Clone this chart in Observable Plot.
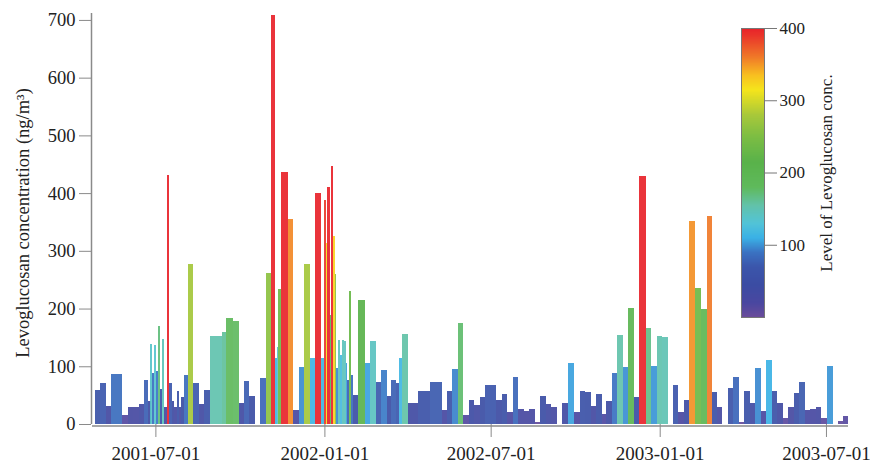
<!DOCTYPE html>
<html><head><meta charset="utf-8">
<script src="https://cdn.jsdelivr.net/npm/d3@7"></script>
<script src="https://cdn.jsdelivr.net/npm/@observablehq/plot@0.6"></script>
<style>
body{margin:0;background:#fff;font-family:"Liberation Serif","Times New Roman",serif;}
#wrap{position:relative;width:870px;height:464px;}
#main{position:absolute;left:0;top:0;}
#legend{position:absolute;left:700px;top:0;}
</style></head><body><div id="wrap"><div id="main"></div><div id="legend"></div></div>
<script>
// Sampling periods (start, end) and levoglucosan concentration (ng/m3)
const starts = [
 "2001-04-26","2001-05-02","2001-05-08","2001-05-14","2001-05-26","2001-06-01","2001-06-07","2001-06-13","2001-06-19","2001-06-23",
 "2001-06-25","2001-06-27","2001-06-30","2001-07-02","2001-07-04","2001-07-06","2001-07-08","2001-07-10","2001-07-14","2001-07-16",
 "2001-07-19","2001-07-21","2001-07-24","2001-07-27","2001-07-29","2001-08-01","2001-08-05","2001-08-11","2001-08-17","2001-08-23",
 "2001-08-29","2001-09-11","2001-09-16","2001-09-23","2001-09-30","2001-10-06","2001-10-11","2001-10-23","2001-10-29","2001-11-04",
 "2001-11-08","2001-11-10","2001-11-12","2001-11-15","2001-11-22","2001-11-28","2001-12-04","2001-12-10","2001-12-16","2001-12-22",
 "2001-12-28","2002-01-01","2002-01-03","2002-01-04","2002-01-07","2002-01-08","2002-01-10","2002-01-12","2002-01-14","2002-01-16",
 "2002-01-18","2002-01-20","2002-01-22","2002-01-24","2002-01-26","2002-01-28","2002-01-30","2002-02-01","2002-02-07","2002-02-14",
 "2002-02-20","2002-02-26","2002-03-04","2002-03-10","2002-03-15","2002-03-20","2002-03-23","2002-03-26","2002-04-02","2002-04-13",
 "2002-04-26","2002-05-09","2002-05-14","2002-05-20","2002-05-26","2002-06-01","2002-06-07","2002-06-13","2002-06-19","2002-06-25",
 "2002-07-07","2002-07-13","2002-07-19","2002-07-25","2002-07-31","2002-08-06","2002-08-12","2002-08-18","2002-08-24","2002-08-30",
 "2002-09-05","2002-09-17","2002-09-23","2002-09-30","2002-10-06","2002-10-12","2002-10-18","2002-10-24","2002-10-30","2002-11-04",
 "2002-11-10","2002-11-16","2002-11-22","2002-11-28","2002-12-04","2002-12-10","2002-12-17","2002-12-22","2002-12-29","2003-01-03",
 "2003-01-15","2003-01-21","2003-01-27","2003-02-02","2003-02-08","2003-02-15","2003-02-21","2003-02-27","2003-03-04","2003-03-16",
 "2003-03-22","2003-03-28","2003-04-03","2003-04-09","2003-04-15","2003-04-21","2003-04-27","2003-05-03","2003-05-09","2003-05-15",
 "2003-05-21","2003-05-27","2003-06-02","2003-06-08","2003-06-14","2003-06-20","2003-06-26","2003-07-02","2003-07-14","2003-07-20"
];
const ends = [
 "2001-05-02","2001-05-08","2001-05-14","2001-05-26","2001-06-01","2001-06-07","2001-06-13","2001-06-19","2001-06-23","2001-06-26",
 "2001-06-27","2001-06-30","2001-07-02","2001-07-04","2001-07-06","2001-07-08","2001-07-10","2001-07-14","2001-07-16","2001-07-19",
 "2001-07-21","2001-07-24","2001-07-27","2001-07-29","2001-08-01","2001-08-05","2001-08-11","2001-08-17","2001-08-23","2001-08-29",
 "2001-09-11","2001-09-16","2001-09-23","2001-09-30","2001-10-06","2001-10-11","2001-10-17","2001-10-29","2001-11-04","2001-11-08",
 "2001-11-10","2001-11-12","2001-11-15","2001-11-22","2001-11-28","2001-12-04","2001-12-10","2001-12-16","2001-12-22","2001-12-28",
 "2002-01-01","2002-01-03","2002-01-04","2002-01-07","2002-01-08","2002-01-10","2002-01-12","2002-01-14","2002-01-16","2002-01-18",
 "2002-01-20","2002-01-22","2002-01-24","2002-01-26","2002-01-28","2002-01-30","2002-02-01","2002-02-07","2002-02-14","2002-02-20",
 "2002-02-26","2002-03-04","2002-03-10","2002-03-15","2002-03-20","2002-03-23","2002-03-26","2002-04-02","2002-04-13","2002-04-26",
 "2002-05-09","2002-05-14","2002-05-20","2002-05-26","2002-06-01","2002-06-07","2002-06-13","2002-06-19","2002-06-25","2002-07-07",
 "2002-07-13","2002-07-19","2002-07-25","2002-07-31","2002-08-06","2002-08-12","2002-08-18","2002-08-24","2002-08-30","2002-09-05",
 "2002-09-11","2002-09-23","2002-09-30","2002-10-06","2002-10-12","2002-10-18","2002-10-24","2002-10-30","2002-11-04","2002-11-10",
 "2002-11-16","2002-11-22","2002-11-28","2002-12-04","2002-12-10","2002-12-17","2002-12-22","2002-12-29","2003-01-03","2003-01-10",
 "2003-01-21","2003-01-27","2003-02-02","2003-02-08","2003-02-15","2003-02-21","2003-02-27","2003-03-04","2003-03-10","2003-03-22",
 "2003-03-28","2003-04-03","2003-04-09","2003-04-15","2003-04-21","2003-04-27","2003-05-03","2003-05-09","2003-05-15","2003-05-21",
 "2003-05-27","2003-06-02","2003-06-08","2003-06-14","2003-06-20","2003-06-26","2003-07-02","2003-07-09","2003-07-20","2003-07-25"
];
const values = [
 59,71,32,86,15,30,29,35,77,40,
 138,88,136,91,170,60,147,30,432,71,
 39,30,58,29,47,85,277,71,35,59,
 153,160,183,179,37,75,48,80,261,709,
 114,134,234,437,355,25,98,277,114,400,
 114,388,313,410,189,447,325,260,97,146,
 120,146,144,105,77,230,85,51,215,105,
 143,72,93,48,77,71,115,156,37,58,
 73,25,57,95,175,16,41,33,47,67,
 42,52,20,81,26,23,26,4,48,35,
 30,36,105,20,57,55,32,52,18,40,
 89,155,99,201,47,430,166,101,153,150,
 67,20,41,352,235,199,360,55,29,62,
 81,4,57,37,97,22,111,58,36,10,
 29,54,73,25,26,30,10,101,6,13
];
const xTicks = ["2001-07-01","2002-01-01","2002-07-01","2003-01-01","2003-07-01"];
const yTicks = [0,100,200,300,400,500,600,700];
const legendTicks = [100,200,300,400];
const colorStops = [0,20,45,70,90,110,130,155,180,215,250,280,315,335,360,390,400];
const colorRange = ["#6b4c9a","#4a47a0","#3b4ca3","#3b56ab","#3a72c2","#3ab1e6","#52c3d8","#62c2aa","#5fba5c","#59b24a","#7cbd43","#a8c83a","#f5e51c","#f8c020","#f07a28","#e9352a","#e8232a"];
const yLabel = "Levoglucosan concentration (ng/m\u00b3)";
const legendLabel = "Level of Levoglucosan conc.";

const data = starts.map((s, i) => ({start: new Date(s), end: new Date(ends[i]), value: values[i]}));
const color = {type: "linear", domain: colorStops, range: colorRange, clamp: true};
const serif = "'Liberation Serif','Times New Roman',serif";
const axisGray = "#8a8a8a";
const xStart = new Date("2001-04-23");

const main = Plot.plot({
  width: 870, height: 464,
  marginLeft: 92, marginRight: 22, marginTop: 13, marginBottom: 40,
  style: {fontFamily: serif, color: "#222", background: "transparent", overflow: "visible"},
  x: {type: "utc", domain: [xStart, new Date("2003-07-25")]},
  y: {domain: [0, 712]},
  color,
  marks: [
    Plot.rect(data, {x1: "start", x2: "end", y1: 0, y2: "value", fill: "value", fillOpacity: 0.92, shapeRendering: "crispEdges"}),
    Plot.ruleY([0], {stroke: axisGray, strokeWidth: 1.5, dy: 1.5}),
    Plot.ruleX([xStart], {y1: 0, y2: 712, stroke: axisGray, strokeWidth: 1.5, dx: -1}),
    Plot.axisY({ticks: yTicks, tickSize: 12, tickPadding: 4, stroke: axisGray, fontSize: 18.5, label: null, tickFormat: d3.format("d"), dx: -1}),
    Plot.axisX({ticks: xTicks.map(d => new Date(d)), tickFormat: d3.utcFormat("%Y-%m-%d"), tickSize: 13, tickPadding: 9, stroke: axisGray, fontSize: 19, label: null}),
    Plot.text([yLabel], {frameAnchor: "left", textAnchor: "middle", dx: -69, dy: 4, rotate: -90, fontSize: 18.5, fill: "#222"})
  ]
});
document.getElementById("main").appendChild(main);

const legendMarks = [];
if (typeof Plot.raster === "function") {
  legendMarks.push(Plot.raster({fill: (x, y) => y, x1: 0, x2: 1, y1: 0, y2: 400, width: 2, height: 400, imageRendering: "auto"}));
}
legendMarks.push(
  Plot.frame({stroke: "#777"}),
  Plot.axisY({anchor: "right", ticks: legendTicks, tickSize: 12, tickPadding: 3, stroke: "#777", fontSize: 17, label: null, tickFormat: d3.format("d")}),
  Plot.text([legendLabel], {frameAnchor: "right", textAnchor: "middle", dx: 62, rotate: -90, fontSize: 17, fill: "#222"})
);
const legend = Plot.plot({
  width: 170, height: 330,
  marginLeft: 41, marginRight: 106, marginTop: 28, marginBottom: 13,
  style: {fontFamily: serif, color: "#222", background: "transparent", overflow: "visible"},
  x: {domain: [0, 1], axis: null},
  y: {domain: [0, 400], axis: null},
  color,
  marks: legendMarks
});
document.getElementById("legend").appendChild(legend);
</script></body></html>
